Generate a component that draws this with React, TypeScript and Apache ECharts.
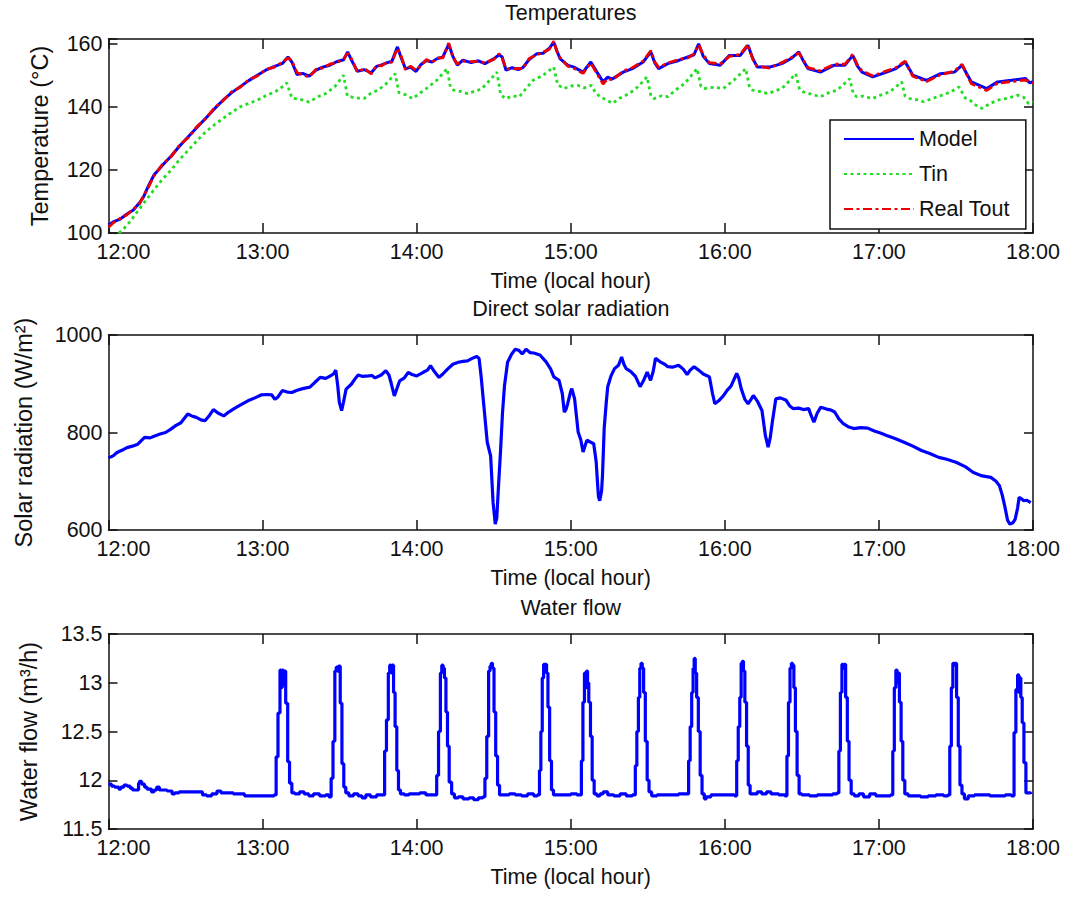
import React, { useEffect, useRef } from 'react';
import * as echarts from 'echarts';

const FONT = '"Liberation Sans", Arial, Helvetica, sans-serif';
const FS = 21.5;
const FS_YNAME = 23.5;
const INK = '#111';

// Time axis (local hours)
const hourTicks = [12, 13, 14, 15, 16, 17, 18];

// Temperatures panel: [hour, °C]
const modelT: number[][] = [
  [12.0, 102.5], [12.03, 103.5], [12.072, 104.3], [12.12, 106], [12.161, 107.3], [12.2, 109.5], [12.228, 111.5],
  [12.26, 115], [12.295, 118.4], [12.35, 121.5], [12.407, 124.4], [12.46, 127.5], [12.519, 130.6], [12.575, 133.5],
  [12.631, 136.4], [12.69, 139.5], [12.743, 142.1], [12.8, 144.5], [12.855, 146.4], [12.91, 148.3], [12.966, 150],
  [13.02, 151.6], [13.078, 152.8], [13.13, 153.8], [13.165, 155.8], [13.19, 154.2], [13.224, 150.2], [13.26, 150.6],
  [13.302, 149.7], [13.347, 151.6], [13.39, 152.6], [13.436, 153.2], [13.48, 154.3], [13.526, 154.9], [13.552, 157.4],
  [13.58, 154.5], [13.615, 151.3], [13.66, 151.8], [13.705, 150.8], [13.74, 152.8], [13.772, 153.3], [13.81, 154],
  [13.839, 154.4], [13.875, 159], [13.9, 155.5], [13.928, 152], [13.96, 152.6], [13.996, 151.2], [14.03, 153.5],
  [14.063, 154.7], [14.1, 154.2], [14.13, 155.2], [14.17, 155.8], [14.208, 159.8], [14.235, 156], [14.264, 153.2],
  [14.3, 154.8], [14.353, 154], [14.4, 154.6], [14.443, 153.7], [14.5, 155.2], [14.535, 156.5], [14.555, 155.8],
  [14.58, 151.6], [14.62, 152.4], [14.66, 151.8], [14.689, 152.4], [14.73, 155], [14.779, 156.8], [14.82, 157],
  [14.86, 158.5], [14.89, 160.5], [14.91, 157.8], [14.93, 155.3], [14.98, 153.2], [15.02, 152.6], [15.08, 151],
  [15.13, 154.2], [15.17, 151], [15.21, 147.9], [15.24, 149.4], [15.27, 148.8], [15.34, 151], [15.4, 152.1],
  [15.47, 154.2], [15.52, 157.4], [15.545, 154], [15.57, 152.1], [15.63, 153.7], [15.7, 154.7], [15.76, 155.8],
  [15.8, 156.5], [15.83, 160], [15.86, 156], [15.9, 153.7], [15.97, 153.2], [16.03, 156.3], [16.1, 156.3],
  [16.15, 159.5], [16.18, 155.5], [16.21, 152.6], [16.29, 152.6], [16.37, 153.7], [16.43, 155.3], [16.48, 157.4],
  [16.51, 154.5], [16.54, 152.1], [16.62, 151], [16.71, 153.2], [16.78, 153.2], [16.83, 156.3], [16.86, 153],
  [16.89, 151], [16.96, 149.5], [17.05, 151], [17.11, 152.1], [17.17, 154.2], [17.2, 151.8], [17.22, 150],
  [17.31, 148.4], [17.4, 150.5], [17.49, 151], [17.54, 153.2], [17.57, 150.5], [17.6, 147.9], [17.7, 145.8],
  [17.77, 147.9], [17.86, 148.4], [17.95, 149], [17.98, 147.6], [18.0, 148],
];

const tinT: number[][] = [
  [12.0, 97.5], [12.05, 99.3], [12.094, 101.1], [12.14, 103.6], [12.18, 106.3], [12.24, 110.2], [12.295, 113.7],
  [12.35, 117], [12.407, 120], [12.46, 123.2], [12.519, 126.3], [12.575, 129.3], [12.631, 132.1], [12.69, 134.4],
  [12.743, 136.3], [12.8, 138.3], [12.855, 140], [12.91, 141.1], [12.966, 142.1], [13.02, 143.5], [13.078, 144.7],
  [13.12, 146], [13.157, 147.6], [13.19, 142.8], [13.25, 142.3], [13.302, 141.5], [13.36, 143.2], [13.414, 144.3],
  [13.47, 146.5], [13.526, 150], [13.55, 143.5], [13.6, 142.8], [13.66, 142.7], [13.7, 144.2], [13.749, 145.3],
  [13.8, 147.2], [13.861, 150.5], [13.885, 144.5], [13.93, 143.8], [13.973, 142.6], [14.02, 144.3], [14.063, 145.8],
  [14.13, 148.4], [14.197, 152.1], [14.22, 146], [14.24, 145.3], [14.29, 144.8], [14.331, 144.2], [14.38, 145],
  [14.42, 145.6], [14.47, 148.2], [14.521, 151], [14.545, 143.8], [14.577, 142.6], [14.62, 143.4], [14.667, 143.2],
  [14.71, 145.8], [14.756, 148.4], [14.82, 150], [14.89, 152.6], [14.915, 147], [14.955, 145.8], [15.0, 146.6],
  [15.045, 146.8], [15.09, 146], [15.135, 146.8], [15.16, 144.5], [15.19, 143.2], [15.23, 142.2], [15.27, 141.1],
  [15.32, 142.8], [15.38, 144.2], [15.44, 146.5], [15.495, 149.5], [15.52, 143.5], [15.54, 142.6], [15.59, 143.5],
  [15.63, 143.2], [15.68, 145.3], [15.74, 147.4], [15.82, 152.1], [15.845, 146.5], [15.866, 145.8], [15.93, 146.2],
  [15.99, 145.8], [16.06, 148.5], [16.136, 152.1], [16.16, 146.2], [16.18, 145.3], [16.23, 144.8], [16.28, 144.2],
  [16.37, 145.8], [16.41, 147.8], [16.46, 150.5], [16.485, 145.5], [16.51, 144.7], [16.56, 144], [16.62, 143.2],
  [16.68, 144.6], [16.73, 145.3], [16.81, 148.9], [16.835, 144], [16.856, 143.2], [16.9, 143.4], [16.957, 142.6],
  [17.02, 143.9], [17.07, 144.7], [17.148, 147.9], [17.17, 143.4], [17.2, 142.6], [17.25, 142.2], [17.29, 141.6],
  [17.35, 142.7], [17.41, 143.7], [17.47, 144.8], [17.52, 146.3], [17.56, 142.8], [17.59, 142.1], [17.63, 140.5],
  [17.67, 139.5], [17.72, 141], [17.77, 142.1], [17.84, 142.8], [17.9, 143.7], [17.94, 143], [17.97, 141.1],
  [18.0, 141.5],
];

const toutT: number[][] = [
  [12.0, 101.8], [12.03, 103.2], [12.072, 104.5], [12.12, 105.8], [12.161, 107.6], [12.2, 109.2], [12.228, 111.8],
  [12.26, 114.6], [12.295, 118.1], [12.35, 121.8], [12.407, 124.2], [12.46, 127.8], [12.519, 130.3], [12.575, 133.8],
  [12.631, 136.2], [12.69, 139.8], [12.743, 141.9], [12.8, 144.8], [12.855, 146.2], [12.91, 148.6], [12.966, 149.8],
  [13.02, 151.8], [13.078, 152.6], [13.13, 154.2], [13.165, 155.5], [13.19, 154.6], [13.224, 150.8], [13.26, 150.2],
  [13.302, 149.4], [13.347, 151.9], [13.39, 152.3], [13.436, 153.5], [13.48, 154], [13.526, 155.2], [13.552, 157],
  [13.58, 155], [13.615, 151], [13.66, 152.2], [13.705, 150.4], [13.74, 153.1], [13.772, 153], [13.81, 154.3],
  [13.839, 154.1], [13.875, 158.6], [13.9, 156], [13.928, 151.7], [13.96, 152.9], [13.996, 151.6], [14.03, 153.2],
  [14.063, 155], [14.1, 154], [14.13, 155.5], [14.17, 155.5], [14.208, 160.2], [14.235, 155.6], [14.264, 153.6],
  [14.3, 154.5], [14.353, 154.3], [14.4, 154.3], [14.443, 154], [14.5, 155], [14.535, 156.8], [14.555, 155.4],
  [14.58, 152], [14.62, 152], [14.66, 152.2], [14.689, 152], [14.73, 155.3], [14.779, 156.5], [14.82, 157.3],
  [14.86, 158.2], [14.89, 160.8], [14.91, 157.5], [14.93, 155.6], [14.98, 152.9], [15.02, 152.2], [15.08, 150.6],
  [15.13, 153.9], [15.17, 150.5], [15.21, 147.2], [15.24, 149], [15.27, 148.5], [15.34, 151.3], [15.4, 152.4],
  [15.47, 154.5], [15.52, 157.8], [15.545, 154.3], [15.57, 152.5], [15.63, 153.9], [15.7, 155], [15.76, 155.5],
  [15.8, 156.8], [15.83, 159.7], [15.86, 156.4], [15.9, 154], [15.97, 153.6], [16.03, 156], [16.1, 156.6],
  [16.15, 159.8], [16.18, 155.2], [16.21, 152.9], [16.29, 152.3], [16.37, 154], [16.43, 155.6], [16.48, 157.1],
  [16.51, 154.8], [16.54, 152.4], [16.62, 151.4], [16.71, 153.5], [16.78, 153.5], [16.83, 156.6], [16.86, 153.3],
  [16.89, 151.4], [16.96, 149.8], [17.05, 151.4], [17.11, 152.4], [17.17, 154.5], [17.2, 151.5], [17.22, 149.7],
  [17.31, 148], [17.4, 150.2], [17.49, 151.3], [17.54, 153.5], [17.57, 150.2], [17.6, 147.3], [17.7, 145.2],
  [17.77, 147.5], [17.86, 148], [17.95, 148.5], [17.98, 147.8], [18.0, 147.5],
];

// Direct solar radiation: [hour, W/m²]
const solar: number[][] = [
  [12.0, 748], [12.03, 752], [12.055, 759], [12.09, 764], [12.12, 769], [12.155, 772], [12.19, 776], [12.234, 790],
  [12.27, 789], [12.3, 793], [12.335, 797], [12.37, 800], [12.4, 806], [12.436, 814], [12.47, 820], [12.514, 838],
  [12.54, 834], [12.57, 831], [12.6, 826], [12.626, 824], [12.655, 835], [12.681, 847], [12.71, 840], [12.748, 834],
  [12.78, 842], [12.815, 849], [12.86, 857], [12.905, 865], [12.95, 871], [12.99, 877], [13.03, 878], [13.06, 877],
  [13.08, 868], [13.1, 873], [13.128, 886], [13.16, 883], [13.19, 882], [13.22, 886], [13.26, 890], [13.307, 893],
  [13.34, 903], [13.374, 913], [13.41, 911], [13.44, 916], [13.46, 920], [13.475, 928], [13.488, 895], [13.498, 862],
  [13.513, 845], [13.525, 862], [13.542, 889], [13.576, 899], [13.6, 910], [13.62, 918], [13.65, 915], [13.687, 916],
  [13.71, 917], [13.73, 912], [13.77, 918], [13.8, 927], [13.82, 918], [13.833, 903], [13.855, 875], [13.875, 893],
  [13.89, 906], [13.92, 912], [13.945, 923], [13.97, 919], [14.0, 916], [14.04, 923], [14.07, 928], [14.09, 937],
  [14.115, 925], [14.145, 913], [14.17, 920], [14.2, 930], [14.235, 940], [14.27, 944], [14.3, 946], [14.33, 947],
  [14.36, 952], [14.39, 956], [14.405, 952], [14.418, 916], [14.436, 855], [14.458, 780], [14.48, 752], [14.496, 656],
  [14.51, 612], [14.52, 625], [14.53, 684], [14.545, 766], [14.557, 840], [14.57, 896], [14.59, 944], [14.615, 960],
  [14.64, 971], [14.665, 968], [14.685, 961], [14.71, 971], [14.735, 964], [14.76, 963], [14.8, 959], [14.84, 945],
  [14.87, 930], [14.89, 914], [14.924, 907], [14.945, 880], [14.958, 842], [14.97, 848], [14.98, 859], [15.0, 885],
  [15.007, 890], [15.025, 869], [15.048, 801], [15.065, 785], [15.08, 760], [15.095, 775], [15.105, 784], [15.13, 780],
  [15.149, 777], [15.165, 740], [15.172, 705], [15.18, 668], [15.188, 660], [15.2, 680], [15.206, 711], [15.217, 808],
  [15.23, 860], [15.24, 894], [15.26, 915], [15.284, 931], [15.31, 938], [15.33, 955], [15.345, 940], [15.36, 931],
  [15.39, 925], [15.42, 915], [15.45, 894], [15.47, 905], [15.496, 924], [15.518, 907], [15.535, 925], [15.55, 952],
  [15.58, 945], [15.61, 940], [15.63, 935], [15.66, 934], [15.7, 938], [15.73, 930], [15.755, 919], [15.775, 928],
  [15.8, 935], [15.83, 928], [15.86, 920], [15.9, 914], [15.92, 880], [15.935, 859], [15.96, 865], [15.99, 875],
  [16.016, 887], [16.04, 895], [16.077, 921], [16.09, 912], [16.106, 890], [16.13, 868], [16.151, 859], [16.17, 868],
  [16.185, 876], [16.21, 865], [16.241, 845], [16.263, 794], [16.281, 770], [16.295, 790], [16.308, 821], [16.331, 869],
  [16.36, 871], [16.398, 866], [16.42, 855], [16.443, 849], [16.48, 850], [16.51, 847], [16.544, 849], [16.56, 835],
  [16.578, 821], [16.6, 840], [16.623, 852], [16.66, 848], [16.69, 846], [16.713, 842], [16.74, 828], [16.769, 818],
  [16.8, 812], [16.837, 808], [16.88, 810], [16.927, 809], [16.97, 803], [17.01, 799], [17.05, 794], [17.1, 788],
  [17.163, 780], [17.22, 772], [17.276, 763], [17.33, 757], [17.388, 749], [17.44, 745], [17.5, 739], [17.56, 730],
  [17.613, 718], [17.67, 711], [17.726, 708], [17.76, 700], [17.782, 691], [17.8, 672], [17.816, 650], [17.835, 620],
  [17.85, 612], [17.87, 615], [17.884, 622], [17.9, 645], [17.91, 667], [17.925, 664], [17.94, 660], [17.96, 661],
  [17.985, 656],
];

// Water flow: [hour, m³/h]
const flow: number[][] = [
  [12.0, 11.96], [12.02, 11.94], [12.04, 11.93], [12.067, 11.91], [12.08, 11.93], [12.1, 11.95], [12.12, 11.94],
  [12.14, 11.92], [12.156, 11.9], [12.18, 11.9], [12.195, 11.97], [12.201, 11.99], [12.215, 11.96], [12.234, 11.93],
  [12.25, 11.91], [12.279, 11.88], [12.295, 11.9], [12.313, 11.93], [12.33, 11.9], [12.346, 11.9], [12.38, 11.89],
  [12.413, 11.86], [12.43, 11.87], [12.458, 11.88], [12.5, 11.88], [12.55, 11.88], [12.592, 11.88], [12.61, 11.85],
  [12.637, 11.84], [12.67, 11.86], [12.704, 11.89], [12.73, 11.87], [12.771, 11.87], [12.81, 11.86], [12.85, 11.86],
  [12.883, 11.84], [12.95, 11.84], [13.0, 11.84], [13.061, 11.84], [13.075, 11.85],
  [13.088, 12.24], [13.1, 12.69], [13.113, 13.13], [13.12, 12.95], [13.127, 13.13], [13.134, 12.98], [13.141, 13.12],
  [13.15, 12.79], [13.163, 12.19], [13.175, 11.97], [13.19, 11.87],
  [13.21, 11.86], [13.24, 11.88], [13.27, 11.86], [13.3, 11.84], [13.33, 11.86], [13.37, 11.84], [13.41, 11.85], [13.43, 11.83],
  [13.445, 12.02], [13.457, 12.4], [13.469, 13.12], [13.478, 13.16], [13.486, 13.12], [13.493, 13.17], [13.504, 12.79],
  [13.515, 12.17], [13.527, 11.93], [13.54, 11.87],
  [13.56, 11.84], [13.59, 11.86], [13.62, 11.84], [13.645, 11.82], [13.67, 11.85], [13.7, 11.83], [13.74, 11.85], [13.77, 11.85],
  [13.792, 12.3], [13.804, 12.62], [13.816, 13.1], [13.825, 13.18], [13.833, 13.1], [13.84, 13.18], [13.85, 12.9],
  [13.86, 12.55], [13.871, 12.1], [13.882, 11.9], [13.895, 11.86],
  [13.92, 11.85], [13.95, 11.86], [13.98, 11.86], [14.02, 11.87], [14.06, 11.85], [14.1, 11.85], [14.118, 11.85],
  [14.13, 12.05], [14.142, 12.5], [14.154, 13.1], [14.163, 13.18], [14.172, 13.15], [14.18, 13.05], [14.19, 12.7],
  [14.2, 12.35], [14.211, 11.98], [14.227, 11.86],
  [14.245, 11.82], [14.27, 11.83], [14.3, 11.81], [14.34, 11.82], [14.37, 11.8], [14.4, 11.82], [14.43, 11.83],
  [14.443, 12.02], [14.455, 12.45], [14.467, 13.12], [14.476, 13.17], [14.484, 13.2], [14.492, 13.15], [14.502, 12.7],
  [14.513, 12.25], [14.525, 11.95], [14.538, 11.85],
  [14.56, 11.85], [14.6, 11.86], [14.64, 11.85], [14.68, 11.84], [14.72, 11.86], [14.76, 11.84], [14.783, 11.85],
  [14.797, 12.1], [14.806, 12.5], [14.815, 13.05], [14.824, 13.19], [14.834, 13.19], [14.843, 13.1], [14.852, 12.75],
  [14.863, 12.2], [14.875, 11.9], [14.888, 11.85],
  [14.91, 11.85], [14.95, 11.85], [15.0, 11.86], [15.04, 11.85], [15.058, 11.85],
  [15.069, 12.2], [15.079, 12.8], [15.089, 13.1], [15.096, 12.95], [15.102, 13.12], [15.109, 13.0], [15.117, 12.8],
  [15.128, 12.45], [15.139, 12.0], [15.152, 11.86],
  [15.17, 11.84], [15.19, 11.86], [15.21, 11.88], [15.24, 11.85], [15.28, 11.84], [15.32, 11.86], [15.36, 11.84], [15.4, 11.85],
  [15.419, 12.15], [15.429, 12.5], [15.439, 12.85], [15.448, 13.15], [15.456, 13.2], [15.464, 13.15], [15.473, 12.9],
  [15.484, 12.4], [15.496, 12.0], [15.508, 11.88],
  [15.525, 11.84], [15.56, 11.85], [15.6, 11.85], [15.65, 11.85], [15.7, 11.86], [15.75, 11.86],
  [15.765, 12.2], [15.775, 12.55], [15.785, 12.9], [15.794, 13.15], [15.801, 13.25], [15.808, 13.1], [15.817, 12.85],
  [15.828, 12.5], [15.84, 12.05], [15.852, 11.86],
  [15.867, 11.81], [15.88, 11.83], [15.91, 11.85], [15.95, 11.85], [16.0, 11.85], [16.04, 11.85], [16.063, 11.84],
  [16.077, 12.2], [16.087, 12.55], [16.097, 12.85], [16.106, 13.2], [16.113, 13.22], [16.121, 13.12], [16.13, 12.8],
  [16.141, 12.35], [16.152, 11.95], [16.164, 11.86],
  [16.18, 11.86], [16.21, 11.88], [16.24, 11.86], [16.27, 11.88], [16.3, 11.86], [16.35, 11.85], [16.39, 11.84],
  [16.403, 12.25], [16.413, 12.8], [16.423, 13.15], [16.432, 13.2], [16.44, 13.18], [16.448, 12.95], [16.458, 12.5],
  [16.469, 12.05], [16.482, 11.86],
  [16.5, 11.85], [16.55, 11.84], [16.6, 11.85], [16.65, 11.85], [16.7, 11.86], [16.728, 11.87],
  [16.74, 12.3], [16.75, 12.9], [16.76, 13.19], [16.768, 13.15], [16.776, 13.19], [16.784, 12.85], [16.795, 12.4],
  [16.806, 12.0], [16.82, 11.86],
  [16.84, 11.84], [16.87, 11.86], [16.9, 11.83], [16.94, 11.86], [16.98, 11.84], [17.03, 11.84], [17.075, 11.85],
  [17.09, 12.3], [17.1, 12.95], [17.11, 13.13], [17.118, 13.0], [17.125, 13.1], [17.133, 12.8], [17.144, 12.4],
  [17.155, 12.0], [17.168, 11.86],
  [17.19, 11.84], [17.22, 11.84], [17.27, 11.83], [17.32, 11.84], [17.37, 11.85], [17.42, 11.84], [17.448, 11.85],
  [17.46, 12.35], [17.47, 12.95], [17.48, 13.2], [17.488, 13.18], [17.496, 13.2], [17.504, 12.85], [17.515, 12.35],
  [17.526, 11.95], [17.539, 11.86],
  [17.555, 11.81], [17.58, 11.84], [17.62, 11.85], [17.67, 11.85], [17.72, 11.84], [17.77, 11.84], [17.82, 11.85], [17.86, 11.84],
  [17.877, 12.49], [17.889, 12.93], [17.9, 13.08], [17.908, 12.9], [17.914, 13.05], [17.921, 12.85], [17.93, 12.59],
  [17.941, 12.18], [17.954, 11.87], [17.986, 11.86],
];

// Panel layout
const AX_LEFT = 108.5;
const AX_WIDTH = 924.5;
const panels = [
  { top: 39, height: 194, title: 'Temperatures', yName: 'Temperature (°C)', yMin: 100, yMax: 161.5, yStep: 20, yGap: 57 },
  { top: 335, height: 195, title: 'Direct solar radiation', yName: 'Solar radiation (W/m²)', yMin: 600, yMax: 1000, yStep: 200, yGap: 73 },
  { top: 634, height: 195, title: 'Water flow', yName: 'Water flow (m³/h)', yMin: 11.5, yMax: 13.5, yStep: 0.5, yGap: 68 },
];

const axisLine = { show: true, onZero: false, lineStyle: { color: INK, width: 1.5 } };
const textBase = { fontFamily: FONT, fontSize: FS, color: INK };

function buildOption() {
  const grid: any[] = [];
  const xAxis: any[] = [];
  const yAxis: any[] = [];
  const graphic: any[] = [];

  panels.forEach((p, i) => {
    grid.push({ left: AX_LEFT, top: p.top, width: AX_WIDTH, height: p.height, containLabel: false });
    xAxis.push({
      type: 'value', gridIndex: i, position: 'bottom', min: hourTicks[0], max: hourTicks[hourTicks.length - 1], interval: 1,
      axisLine, axisTick: { show: true, inside: true, length: 10, lineStyle: { color: INK, width: 1.5 } },
      splitLine: { show: false },
      axisLabel: {
        ...textBase, margin: 8,
        formatter: (v: number) => (v === hourTicks[0] ? `{first|${v}:00}` : `${v}:00`),
        rich: { first: { ...textBase, padding: [0, 0, 0, 30] } },
      },
      name: 'Time (local hour)', nameLocation: 'middle', nameGap: 37, nameTextStyle: textBase,
    });
    xAxis.push({
      type: 'value', gridIndex: i, position: 'top', min: hourTicks[0], max: hourTicks[hourTicks.length - 1], interval: 1,
      axisLine, axisTick: { show: true, inside: true, length: 10, lineStyle: { color: INK, width: 1.5 } },
      splitLine: { show: false }, axisLabel: { show: false },
    });
    yAxis.push({
      type: 'value', gridIndex: i, position: 'left', min: p.yMin, max: p.yMax, interval: p.yStep,
      axisLine, axisTick: { show: true, inside: true, length: 9, lineStyle: { color: INK, width: 1.5 } },
      splitLine: { show: false },
      axisLabel: {
        ...textBase, margin: 6,
        formatter: (v: number) => {
          const k = (v - p.yMin) / p.yStep;
          return Math.abs(k - Math.round(k)) < 1e-6 ? String(v) : '';
        },
      },
      name: p.yName, nameLocation: 'middle', nameRotate: 90, nameGap: p.yGap,
      nameTextStyle: { ...textBase, fontSize: FS_YNAME },
    });
    yAxis.push({
      type: 'value', gridIndex: i, position: 'right', min: p.yMin, max: p.yMax, interval: p.yStep,
      axisLine, axisTick: { show: true, inside: true, length: 9, lineStyle: { color: INK, width: 1.5 } },
      splitLine: { show: false }, axisLabel: { show: false },
    });
    graphic.push({
      type: 'text', x: AX_LEFT + AX_WIDTH / 2, y: p.top - 26,
      style: { text: p.title, font: `${FS}px ${FONT}`, fill: INK, align: 'center', verticalAlign: 'middle' },
    });
  });

  const lineCommon = { type: 'line', symbol: 'none', showSymbol: false, animation: false, clip: true };

  const series: any[] = [
    { ...lineCommon, name: 'Model', xAxisIndex: 0, yAxisIndex: 0, data: modelT, z: 2,
      itemStyle: { color: '#0000ff' }, lineStyle: { color: '#0000ff', width: 3 } },
    { ...lineCommon, name: 'Tin', xAxisIndex: 0, yAxisIndex: 0, data: tinT, z: 3,
      itemStyle: { color: '#22dd22' }, lineStyle: { color: '#22dd22', width: 2.8, type: [3, 3.5] } },
    { ...lineCommon, name: 'Real Tout', xAxisIndex: 0, yAxisIndex: 0, data: toutT, z: 4,
      itemStyle: { color: '#ee0000' }, lineStyle: { color: '#ee0000', width: 2.8, type: [9, 3.5, 3, 3.5] } },
    { ...lineCommon, name: 'Solar', xAxisIndex: 2, yAxisIndex: 2, data: solar,
      itemStyle: { color: '#0000ff' }, lineStyle: { color: '#0000ff', width: 3.2 } },
    { ...lineCommon, name: 'Flow', xAxisIndex: 4, yAxisIndex: 4, data: flow, step: 'end',
      itemStyle: { color: '#0000ff' }, lineStyle: { color: '#0000ff', width: 3.2 } },
  ];

  return {
    animation: false,
    backgroundColor: '#ffffff',
    textStyle: { fontFamily: FONT },
    grid, xAxis, yAxis, series, graphic,
    legend: {
      data: ['Model', 'Tin', 'Real Tout'],
      orient: 'vertical', left: 830, top: 120,
      itemWidth: 70, itemHeight: 14, itemGap: 11,
      padding: [7, 16, 8, 13],
      backgroundColor: '#ffffff', borderColor: INK, borderWidth: 1.5, borderRadius: 0,
      selectedMode: false,
      // line sample only, no marker dot
      itemStyle: { opacity: 0, borderWidth: 0 },
      textStyle: { ...textBase, lineHeight: 24 },
    },
  };
}

export default function App() {
  const ref = useRef<HTMLDivElement>(null);
  useEffect(() => {
    if (!ref.current) return;
    const chart = echarts.init(ref.current, null, { renderer: 'svg' });
    chart.setOption(buildOption() as any);
    return () => chart.dispose();
  }, []);
  return (
    <div
      ref={ref}
      style={{ position: 'absolute', left: 0, top: 0, width: 1084, height: 899, background: '#fff' }}
    />
  );
}
